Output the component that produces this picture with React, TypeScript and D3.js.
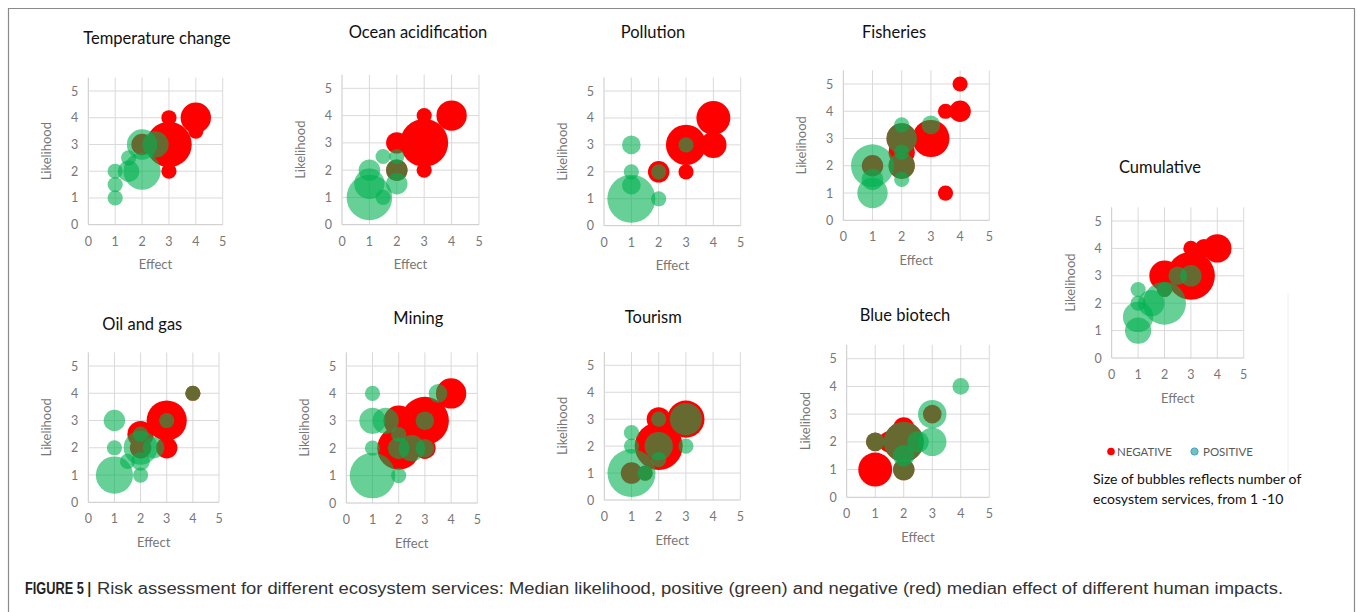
import React from 'react';
import * as d3 from 'd3';

type B = { e: number; l: number; n: number };

// ---- data: effect (x), likelihood (y), number of ecosystem services (bubble size)
const tempNeg: B[] = [
  { e: 4, l: 4, n: 4 }, { e: 4, l: 3.5, n: 1 }, { e: 3, l: 4, n: 1 }, { e: 3, l: 3, n: 9 },
  { e: 3, l: 2, n: 1 }, { e: 2, l: 3, n: 2 },
];
const tempPos: B[] = [
  { e: 1, l: 1, n: 1 }, { e: 1, l: 1.5, n: 1 }, { e: 1, l: 2, n: 1 }, { e: 1.5, l: 2.5, n: 1 },
  { e: 1.5, l: 2, n: 2 }, { e: 2, l: 2, n: 6 }, { e: 2, l: 3, n: 4 }, { e: 2.5, l: 3, n: 3 },
];
const oceanNeg: B[] = [
  { e: 4, l: 4, n: 4 }, { e: 3, l: 4, n: 1 }, { e: 3, l: 3, n: 10 }, { e: 2, l: 3, n: 2 },
  { e: 3, l: 2, n: 1 }, { e: 2, l: 2, n: 2 },
];
const oceanPos: B[] = [
  { e: 1, l: 1, n: 9 }, { e: 1, l: 1.5, n: 4 }, { e: 1, l: 2, n: 2 }, { e: 1.5, l: 1, n: 1 },
  { e: 1.5, l: 2.5, n: 1 }, { e: 2, l: 2.5, n: 1 }, { e: 2, l: 2, n: 2 }, { e: 2, l: 1.5, n: 2 },
];
const pollNeg: B[] = [
  { e: 4, l: 4, n: 5 }, { e: 4, l: 3, n: 3 }, { e: 3, l: 3, n: 7 }, { e: 3, l: 2, n: 1 },
  { e: 2, l: 2, n: 2 },
];
const pollPos: B[] = [
  { e: 1, l: 1, n: 10 }, { e: 1, l: 1.5, n: 1.5 }, { e: 1, l: 2, n: 1 }, { e: 1, l: 3, n: 1.5 },
  { e: 2, l: 1, n: 1 }, { e: 2, l: 2, n: 1 }, { e: 3, l: 3, n: 1 },
];
const fishNeg: B[] = [
  { e: 4, l: 5, n: 1 }, { e: 4, l: 4, n: 2 }, { e: 3.5, l: 4, n: 1 }, { e: 3.5, l: 1, n: 1 },
  { e: 3, l: 3, n: 6 }, { e: 2, l: 3, n: 4 }, { e: 2, l: 2.5, n: 3 }, { e: 2, l: 2, n: 3 },
  { e: 1, l: 2, n: 2 },
];
const fishPos: B[] = [
  { e: 1, l: 2, n: 8 }, { e: 1, l: 1, n: 4 }, { e: 1, l: 1.5, n: 2 }, { e: 2, l: 3.5, n: 1 },
  { e: 2, l: 3, n: 4 }, { e: 2, l: 2.5, n: 1 }, { e: 2, l: 2, n: 3 }, { e: 2, l: 1.5, n: 1 },
  { e: 3, l: 3.5, n: 1.5 },
];
const oilNeg: B[] = [
  { e: 3, l: 3, n: 7 }, { e: 2, l: 2.5, n: 3 }, { e: 3, l: 2, n: 2 }, { e: 2, l: 2, n: 2 },
  { e: 4, l: 4, n: 1 },
];
const oilPos: B[] = [
  { e: 1, l: 1, n: 6 }, { e: 1, l: 3, n: 2 }, { e: 1, l: 2, n: 1 }, { e: 1.5, l: 1.5, n: 1 },
  { e: 2, l: 1, n: 1 }, { e: 2, l: 2, n: 5 }, { e: 2, l: 2.5, n: 1 }, { e: 2, l: 1.5, n: 1.5 },
  { e: 2.5, l: 2, n: 2 }, { e: 3, l: 3, n: 1 }, { e: 4, l: 4, n: 1 },
];
const miningNeg: B[] = [
  { e: 4, l: 4, n: 4 }, { e: 3, l: 3, n: 10 }, { e: 2, l: 3, n: 4 }, { e: 2, l: 2, n: 8 },
  { e: 2.5, l: 2, n: 2 }, { e: 3, l: 2, n: 2 },
];
const miningPos: B[] = [
  { e: 1, l: 1, n: 9 }, { e: 1, l: 4, n: 1 }, { e: 1, l: 3, n: 3 }, { e: 1, l: 2, n: 1 },
  { e: 1.5, l: 3, n: 3 }, { e: 2, l: 1, n: 1 }, { e: 2, l: 2, n: 2 }, { e: 2, l: 2.5, n: 1 },
  { e: 2.5, l: 2, n: 3 }, { e: 3, l: 3, n: 1.5 }, { e: 3, l: 2, n: 1.5 }, { e: 3.5, l: 4, n: 1.5 },
];
const tourNeg: B[] = [
  { e: 3, l: 3, n: 6 }, { e: 2, l: 3, n: 2.5 }, { e: 2, l: 2, n: 10 }, { e: 1, l: 1, n: 2 },
  { e: 1.5, l: 1, n: 1 },
];
const tourPos: B[] = [
  { e: 1, l: 1, n: 10 }, { e: 1, l: 2.5, n: 1 }, { e: 1, l: 2, n: 1 }, { e: 1.5, l: 1, n: 1 },
  { e: 2, l: 2, n: 3.5 }, { e: 2, l: 1.5, n: 1 }, { e: 3, l: 2, n: 1 }, { e: 3, l: 3, n: 4.5 },
  { e: 2, l: 3, n: 1 },
];
const bioNeg: B[] = [
  { e: 1, l: 1, n: 5 }, { e: 2, l: 2, n: 7 }, { e: 2, l: 2.5, n: 2 }, { e: 1.5, l: 2, n: 2 },
  { e: 2, l: 1, n: 2 }, { e: 1, l: 2, n: 1.5 }, { e: 3, l: 3, n: 1.5 },
];
const bioPos: B[] = [
  { e: 4, l: 4, n: 1.2 }, { e: 3, l: 3, n: 3.5 }, { e: 3, l: 2, n: 3.5 }, { e: 2.5, l: 2, n: 2 },
  { e: 2, l: 1.5, n: 2 }, { e: 2, l: 1, n: 2 }, { e: 2, l: 2, n: 7 }, { e: 1, l: 2, n: 1.5 },
];
const cumNeg: B[] = [
  { e: 4, l: 4, n: 3.5 }, { e: 3.5, l: 4, n: 1.5 }, { e: 3, l: 4, n: 1 }, { e: 3, l: 3, n: 10 },
  { e: 2, l: 3, n: 4 }, { e: 2, l: 2.5, n: 1 }, { e: 2.5, l: 3, n: 1.5 },
];
const cumPos: B[] = [
  { e: 1, l: 1, n: 3 }, { e: 1, l: 1.5, n: 4 }, { e: 1, l: 2, n: 1 }, { e: 1, l: 2.5, n: 1 },
  { e: 1.5, l: 2, n: 3 }, { e: 2, l: 2, n: 8 }, { e: 2, l: 2.5, n: 1 }, { e: 2.5, l: 3, n: 1.5 },
  { e: 3, l: 3, n: 2 },
];

const titles = [
  'Temperature change', 'Ocean acidification', 'Pollution', 'Fisheries',
  'Oil and gas', 'Mining', 'Tourism', 'Blue biotech', 'Cumulative',
];
const negSeries = [tempNeg, oceanNeg, pollNeg, fishNeg, oilNeg, miningNeg, tourNeg, bioNeg, cumNeg];
const posSeries = [tempPos, oceanPos, pollPos, fishPos, oilPos, miningPos, tourPos, bioPos, cumPos];
const tickValues = [0, 1, 2, 3, 4, 5];
const xLabel = 'Effect';
const yLabel = 'Likelihood';
const legendLabels = ['NEGATIVE', 'POSITIVE'];
const noteLines = ['Size of bubbles reflects number of', 'ecosystem services, from 1 -10'];
const captionBold = 'FIGURE 5 |';
const captionText =
  'Risk assessment for different ecosystem services: Median likelihood, positive (green) and negative (red) median effect of different human impacts.';

// ---- layout (pixel geometry of each small plot)
const layout = [
  { x0: 88.3, x1: 222.7, y0: 224.7, y5: 91, tx: 157, ty: 38 },
  { x0: 342, x1: 479, y0: 224.7, y5: 88.3, tx: 418, ty: 32.5 },
  { x0: 604, x1: 740.7, y0: 225.7, y5: 91, tx: 653, ty: 32.5 },
  { x0: 843.3, x1: 989.3, y0: 220.3, y5: 84, tx: 894, ty: 32.5 },
  { x0: 88.3, x1: 219, y0: 502.3, y5: 366, tx: 142.3, ty: 324 },
  { x0: 346.3, x1: 477.3, y0: 503, y5: 366, tx: 418.3, ty: 318.5 },
  { x0: 604.3, x1: 740.3, y0: 500, y5: 365.3, tx: 653.3, ty: 317.5 },
  { x0: 846.7, x1: 989.3, y0: 497.3, y5: 358.7, tx: 905, ty: 315.5 },
  { x0: 1111.7, x1: 1243.7, y0: 358, y5: 221, tx: 1160, ty: 167.5 },
];

const FONT = "Lato, 'Open Sans', 'Liberation Sans', sans-serif";
const CAP_FONT = "'Liberation Sans', Arial, sans-serif";
const RED = '#ff0000';
const GREEN = '#00b050';
const GRID = '#d9d9d9';
const TICK = '#777777';
const NARROW = 0.82;

const rScale = d3.scaleSqrt().domain([0, 10]).range([0, 24]);

function Panel({ i }: { i: number }) {
  const L = layout[i];
  const x = d3.scaleLinear().domain([0, 5]).range([L.x0, L.x1]);
  const y = d3.scaleLinear().domain([0, 5]).range([L.y0, L.y5]);
  const yTop = y(5.5);
  const midY = (L.y0 + yTop) / 2;
  return (
    <g>
      <text x={L.tx} y={L.ty + 5.5} textAnchor="middle" fontSize={16.5} fill="#111" fontFamily={FONT}>
        {titles[i]}
      </text>
      {tickValues.map((t) => (
        <line key={'v' + t} x1={x(t)} x2={x(t)} y1={L.y0} y2={yTop} stroke={t === 0 ? '#c8c8c8' : GRID} strokeWidth={1} />
      ))}
      {tickValues.map((t) => (
        <line key={'h' + t} x1={L.x0} x2={L.x1} y1={y(t)} y2={y(t)} stroke={t === 0 ? '#c8c8c8' : GRID} strokeWidth={1} />
      ))}
      {tickValues.map((t) => (
        <text key={'xt' + t} x={x(t)} y={L.y0 + 21} textAnchor="middle" fontSize={12.5} fill={TICK} fontFamily={FONT}>
          {t}
        </text>
      ))}
      {tickValues.map((t) => (
        <text key={'yt' + t} x={L.x0 - 10} y={y(t) + 4.5} textAnchor="end" fontSize={12.5} fill={TICK} fontFamily={FONT}>
          {t}
        </text>
      ))}
      <text x={(L.x0 + L.x1) / 2} y={L.y0 + 44.5} textAnchor="middle" fontSize={13} fill={TICK} fontFamily={FONT}>
        {xLabel}
      </text>
      <text
        transform={`translate(${L.x0 - 37},${midY}) rotate(-90)`}
        textAnchor="middle"
        fontSize={13}
        fill={TICK}
        fontFamily={FONT}
      >
        {yLabel}
      </text>
      {negSeries[i].map((d, k) => (
        <circle key={'n' + k} cx={x(d.e)} cy={y(d.l)} r={rScale(d.n)} fill={RED} />
      ))}
      {posSeries[i].map((d, k) => (
        <circle key={'p' + k} cx={x(d.e)} cy={y(d.l)} r={rScale(d.n)} fill={GREEN} fillOpacity={0.6} />
      ))}
    </g>
  );
}

export default function App() {
  return (
    <svg
      width={1357}
      height={612}
      viewBox="0 0 1357 612"
      style={{ position: 'absolute', left: 0, top: 0, background: '#fff' }}
    >
      <rect x={0} y={0} width={1357} height={612} fill="#fff" />
      <path d="M8.5,620 L8.5,8.5 L1354.5,8.5 L1354.5,620" fill="none" stroke="#8a8a8a" strokeWidth={1.2} />
      <line x1={1288} x2={1288} y1={293} y2={475} stroke="#eeeeee" strokeWidth={1} />
      {titles.map((_, i) => (
        <Panel key={i} i={i} />
      ))}
      {/* legend */}
      <circle cx={1111} cy={451.5} r={3.8} fill={RED} />
      <text x={1117} y={456} fontSize={11.5} fill="#595959" fontFamily={FONT}>
        {legendLabels[0]}
      </text>
      <circle cx={1194.5} cy={451.5} r={3.6} fill="#6cc6b4" stroke="#4f97d1" strokeWidth={1} />
      <text x={1203} y={456} fontSize={11.5} fill="#595959" fontFamily={FONT}>
        {legendLabels[1]}
      </text>
      <text x={1093} y={484} fontSize={14} fill="#111" fontFamily={FONT}>
        {noteLines[0]}
      </text>
      <text x={1093} y={504} fontSize={14} fill="#111" fontFamily={FONT}>
        {noteLines[1]}
      </text>
      {/* caption (narrow face emulated by horizontal scaling) */}
      <g transform={`translate(25,594) scale(${NARROW},1)`}>
        <text
          x={0}
          y={0}
          fontSize={16}
          fontWeight="bold"
          fill="#222"
          fontFamily={CAP_FONT}
          textLength={66 / NARROW}
          lengthAdjust="spacingAndGlyphs"
        >
          {captionBold}
        </text>
      </g>
      <g transform={`translate(97,594) scale(${NARROW},1)`}>
        <text
          x={0}
          y={0}
          fontSize={16}
          fill="#333"
          fontFamily={CAP_FONT}
          textLength={1186 / NARROW}
          lengthAdjust="spacingAndGlyphs"
        >
          {captionText}
        </text>
      </g>
    </svg>
  );
}
